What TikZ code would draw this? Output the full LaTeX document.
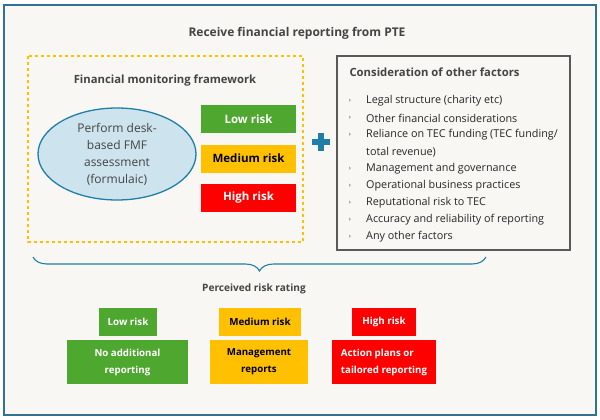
\documentclass[tikz,border=0pt]{standalone}
\usepackage{fontspec}
\setmainfont{Open Sans}
\usepackage{tikz}
\usetikzlibrary{decorations.pathreplacing,shapes.geometric}
\definecolor{Paper}{HTML}{F8F7F3}
\definecolor{FrameBlue}{HTML}{2E7393}
\definecolor{TealBlue}{HTML}{1F7FA8}
\definecolor{HeadGrey}{HTML}{444444}
\definecolor{BoxGrey}{HTML}{595959}
\definecolor{RiskGreen}{HTML}{4EA72E}
\definecolor{RiskAmber}{HTML}{FFC000}
\definecolor{RiskRed}{HTML}{FF0000}
\definecolor{EllFill}{HTML}{CDE3EE}

\begin{document}
\begin{tikzpicture}[x=1pt,y=-1pt,
    head/.style={font=\fontsize{11.3}{14}\selectfont\bfseries,text=HeadGrey},
    riskbox/.style={minimum height=28,inner sep=0pt,font=\fontsize{11.5}{14}\selectfont\bfseries},
    outbox/.style={minimum height=44,inner sep=0pt,align=center,font=\fontsize{9.7}{17}\selectfont\bfseries},
    item/.style={anchor=west,inner sep=0pt,font=\fontsize{10.8}{13}\selectfont,text=black!85}]
  \useasboundingbox (0,0) rectangle (600,420);
  \fill[white] (0,0) rectangle (600,420);
  \draw[FrameBlue,line width=2,fill=Paper] (4,5) rectangle (596,415);
  \node[head,font=\fontsize{12}{14}\selectfont\bfseries] (title) at (297,33) {Receive financial reporting from PTE};

  % financial monitoring framework
  \draw[RiskAmber,line width=1.4,dashed] (28,56) rectangle (303,242);
  \node[head] (fmf) at (165,81) {Financial monitoring framework};
  \node[ellipse,draw=TealBlue,line width=1.3,fill=EllFill,minimum width=158,minimum height=92,
        inner sep=0pt,align=center,font=\fontsize{12}{17}\selectfont,text=HeadGrey] (desk) at (117,154)
        {Perform desk-\\based FMF\\assessment\\(formulaic)};
  \foreach \n/\y/\col/\txt/\lab in {
    low/119/RiskGreen/white/{Low risk},
    med/158.5/RiskAmber/black/{Medium risk},
    high/197.5/RiskRed/white/{High risk}}
  {
    \node[riskbox,fill=\col,text=\txt,minimum width=95] (\n) at (248.5,\y) {\lab};
  }

  % plus sign
  \fill[TealBlue] (312,139) rectangle (330,145);
  \fill[TealBlue] (318,133) rectangle (324,151);

  % other factors
  \draw[BoxGrey,line width=1.2] (337,56) rectangle (570,250);
  \node[head,anchor=west] (other) at (346,72) {Consideration of other factors};
  \foreach \i/\y/\lab in {
    1/101/{Legal structure (charity etc)},
    2/118/{Other financial considerations},
    3/135/{Reliance on TEC funding (TEC funding/},
    5/169/{Management and governance},
    6/186/{Operational business practices},
    7/203/{Reputational risk to TEC},
    8/220/{Accuracy and reliability of reporting},
    9/237/{Any other factors}}
  {
    \node[anchor=center,font=\fontsize{7}{8}\selectfont,text=HeadGrey] (b\i) at (350,\y) {›};
    \node[item] (f\i) at (366,\y) {\lab};
  }
  \node[item] (f4) at (366,152) {total revenue)};

  % brace
  \coordinate (bl) at (33,257);
  \coordinate (br) at (486,257);
  \draw[TealBlue,line width=1.1,decorate,decoration={brace,mirror,amplitude=14}] (bl) -- (br);
  \node[head,font=\fontsize{10.1}{14}\selectfont\bfseries] (rating) at (254,289) {Perceived risk rating};

  % risk outcomes
  \node[riskbox,fill=RiskGreen,text=white,minimum width=58,font=\fontsize{9.8}{14}\selectfont\bfseries] (rlow) at (128,321.5) {Low risk};
  \node[riskbox,fill=RiskAmber,text=black,minimum width=82,font=\fontsize{9.8}{14}\selectfont\bfseries] (rmed) at (260,321.5) {Medium risk};
  \node[riskbox,fill=RiskRed,text=white,minimum width=64,font=\fontsize{9.8}{14}\selectfont\bfseries] (rhigh) at (384,321.5) {High risk};
  \node[outbox,fill=RiskGreen,text=white,minimum width=121] (olow) at (127.5,362) {No additional\\reporting};
  \node[outbox,fill=RiskAmber,text=black,minimum width=98] (omed) at (259,362) {Management\\reports};
  \node[outbox,fill=RiskRed,text=white,minimum width=104,align=left] (ohigh) at (384,362) {Action plans or\\tailored reporting};
\end{tikzpicture}
\end{document}
